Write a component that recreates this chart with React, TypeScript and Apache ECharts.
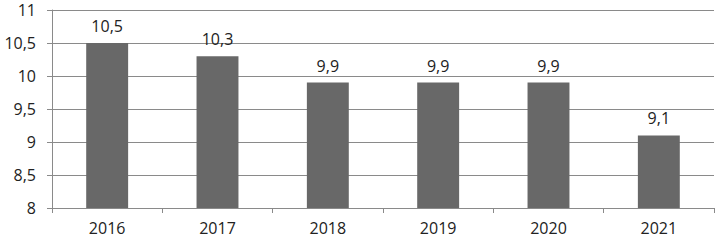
import React, { useEffect, useRef } from "react";
import * as echarts from "echarts";

const categories = ["2016", "2017", "2018", "2019", "2020", "2021"];
const values = [10.5, 10.3, 9.9, 9.9, 9.9, 9.1];

const fmt = (v: number) => String(v).replace(".", ",");

export default function App() {
  const ref = useRef<HTMLDivElement>(null);
  useEffect(() => {
    if (!ref.current) return;
    const chart = echarts.init(ref.current, null, { renderer: "svg" });
    const font = "'Open Sans', 'Noto Sans', sans-serif";
    chart.setOption({
      animation: false,
      grid: { left: 52, right: 5, top: 10, bottom: 34 },
      xAxis: {
        type: "category",
        data: categories,
        axisLine: { lineStyle: { color: "#8a8a8a", width: 1 } },
        axisTick: { show: true, length: 5, lineStyle: { color: "#8a8a8a" } },
        axisLabel: { color: "#222", fontSize: 16, fontFamily: font, margin: 12 },
      },
      yAxis: {
        type: "value",
        min: 8,
        max: 11,
        interval: 0.5,
        axisLine: { show: true, lineStyle: { color: "#8a8a8a", width: 1 } },
        axisTick: { show: true, length: 5, lineStyle: { color: "#8a8a8a" } },
        splitLine: { lineStyle: { color: "#8a8a8a", width: 1 } },
        axisLabel: {
          color: "#222",
          fontSize: 16,
          fontFamily: font,
          margin: 16,
          formatter: (v: number) => fmt(v),
        },
      },
      series: [
        {
          type: "bar",
          data: values,
          barWidth: "38%",
          itemStyle: { color: "#686868" },
          label: {
            show: true,
            position: "top",
            distance: 9,
            color: "#222",
            fontSize: 16,
            fontFamily: font,
            formatter: (p: any) => fmt(p.value),
          },
        },
      ],
    });
    return () => chart.dispose();
  }, []);
  return (
    <div
      ref={ref}
      style={{ position: "fixed", left: 0, top: 0, width: 719, height: 242, background: "#fff" }}
    />
  );
}
